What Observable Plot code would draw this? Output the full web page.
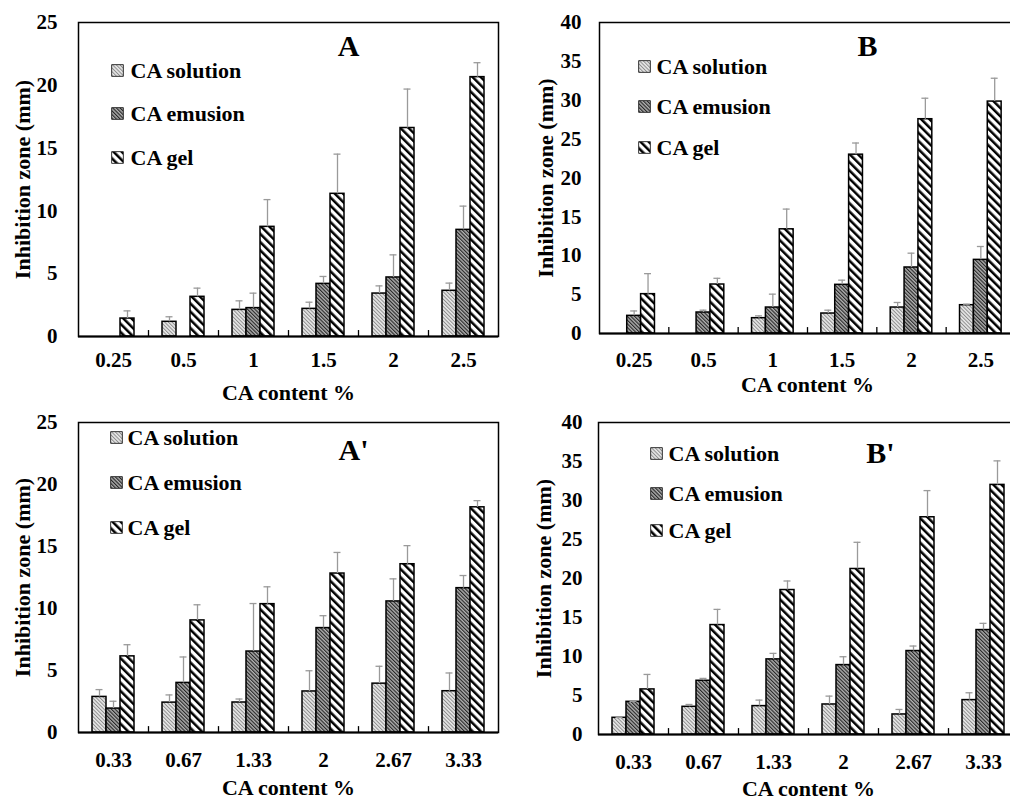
<!DOCTYPE html>
<html>
<head>
<meta charset="utf-8">
<script src="https://cdn.jsdelivr.net/npm/d3@7"></script>
<script src="https://cdn.jsdelivr.net/npm/@observablehq/plot@0.6"></script>
<style>
html, body { margin: 0; padding: 0; background: #fff; width: 1010px; height: 801px; overflow: hidden; }
.panel { position: absolute; }
.panel svg { max-width: none !important; display: block; }
.panel svg text { font-family: "Liberation Serif", "Times New Roman", serif !important; font-weight: bold !important; }
</style>
</head>
<body>
<svg width="0" height="0" style="position:absolute;left:0;top:0">
  <defs>
    <pattern id="pat-sol" patternUnits="userSpaceOnUse" width="2.6" height="2.6" patternTransform="rotate(-45)">
      <rect width="2.6" height="2.6" fill="#e9e9e9"></rect>
      <rect width="1" height="2.6" fill="#8c8c8c"></rect>
    </pattern>
    <pattern id="pat-emu" patternUnits="userSpaceOnUse" width="2.6" height="2.6" patternTransform="rotate(-45)">
      <rect width="2.6" height="2.6" fill="#b0b0b0"></rect>
      <rect width="1.15" height="2.6" fill="#262626"></rect>
    </pattern>
    <pattern id="pat-gel" patternUnits="userSpaceOnUse" width="5.8" height="5.8" patternTransform="rotate(-45)">
      <rect width="5.8" height="5.8" fill="#ffffff"></rect>
      <rect width="2.5" height="5.8" fill="#000000"></rect>
    </pattern>
  </defs>
</svg>
<div id="root"></div>
<script>
// ---- data ----
const series = ["CA solution", "CA emusion", "CA gel"];
const catsA = ["0.25", "0.5", "1", "1.5", "2", "2.5"];
const catsAp = ["0.33", "0.67", "1.33", "2", "2.67", "3.33"];

// Panel A
const solA = [0, 1.17, 2.12, 2.2, 3.42, 3.64];
const solA_sd = [0, 0.4, 0.72, 0.53, 0.61, 0.61];
const emuA = [0, 0, 2.26, 4.19, 4.7, 8.49];
const emuA_sd = [0, 0, 1.19, 0.59, 1.8, 1.89];
const gelA = [1.43, 3.16, 8.73, 11.36, 16.6, 20.65];
const gelA_sd = [0.61, 0.69, 2.17, 3.16, 3.1, 1.15];

// Panel B
const solB = [0, 0, 1.97, 2.57, 3.34, 3.64];
const solB_sd = [0, 0, 0.3, 0.43, 0.65, 0.13];
const emuB = [2.27, 2.7, 3.34, 6.26, 8.49, 9.47];
const emuB_sd = [0.63, 0.3, 1.72, 0.6, 1.84, 1.72];
const gelB = [5.06, 6.3, 13.4, 23.0, 27.56, 29.83];
const gelB_sd = [2.64, 0.8, 2.6, 1.5, 2.7, 3.0];

// Panel A'
const solAp = [2.87, 2.41, 2.42, 3.31, 3.94, 3.33];
const solAp_sd = [0.59, 0.62, 0.28, 1.67, 1.4, 1.47];
const emuAp = [1.93, 4.0, 6.53, 8.42, 10.57, 11.64];
const emuAp_sd = [0.59, 2.09, 3.87, 1.0, 1.82, 1.02];
const gelAp = [6.14, 9.04, 10.35, 12.82, 13.57, 18.16];
const gelAp_sd = [0.94, 1.26, 1.4, 1.7, 1.5, 0.54];

// Panel B'
const solBp = [2.14, 3.55, 3.64, 3.85, 2.57, 4.41];
const solBp_sd = [0.06, 0.3, 0.77, 1.07, 0.64, 0.94];
const emuBp = [4.19, 6.89, 9.63, 8.9, 10.7, 13.39];
const emuBp_sd = [0.05, 0.3, 0.77, 1.07, 0.64, 0.86];
const gelBp = [5.78, 14.03, 18.52, 21.22, 27.85, 32.0];
const gelBp_sd = [1.92, 2.01, 1.16, 3.42, 3.42, 3.08];

const yTitle = "Inhibition zone (mm)";
const xTitle = "CA content %";
const patterns = ["url(#pat-sol)", "url(#pat-emu)", "url(#pat-gel)"];
const FONT = "'Liberation Serif', 'Times New Roman', serif";

// ---- layout ----
const panels = [
  {letter: "A", cats: catsA, vals: [solA, emuA, gelA], sds: [solA_sd, emuA_sd, gelA_sd], ymax: 25,
   left: 0, top: 0, width: 505, height: 400, mL: 78, mR: 7, mT: 22, mB: 64,
   yPad: 21, xPad: 16, yTitleDx: 56, xTitleDy: 56, letterDx: 270, letterDy: 24,
   sqDx: 39, textDx: 52, dys: [48, 91, 135]},
  {letter: "B", cats: catsA, vals: [solB, emuB, gelB], sds: [solB_sd, emuB_sd, gelB_sd], ymax: 40,
   left: 505, top: 0, width: 520, height: 400, mL: 94, mR: 10, mT: 22, mB: 67,
   yPad: 18, xPad: 19, yTitleDx: 54, xTitleDy: 51, letterDx: 268, letterDy: 24,
   sqDx: 45, textDx: 57, dys: [44, 84, 125]},
  {letter: "A'", cats: catsAp, vals: [solAp, emuAp, gelAp], sds: [solAp_sd, emuAp_sd, gelAp_sd], ymax: 25,
   left: 0, top: 400, width: 505, height: 401, mL: 78, mR: 7, mT: 22, mB: 69,
   yPad: 21, xPad: 20, yTitleDx: 56, xTitleDy: 55, letterDx: 275, letterDy: 28,
   sqDx: 38, textDx: 49, dys: [15, 60, 105]},
  {letter: "B'", cats: catsAp, vals: [solBp, emuBp, gelBp], sds: [solBp_sd, emuBp_sd, gelBp_sd], ymax: 40,
   left: 505, top: 400, width: 525, height: 401, mL: 93, mR: 12, mT: 22, mB: 67,
   yPad: 16, xPad: 20, yTitleDx: 55, xTitleDy: 54, letterDx: 282, letterDy: 31,
   sqDx: 58, textDx: 70, dys: [31, 71, 108]}
];

const W = 0.2;       // bar width in category units
const CAP = 0.05;    // half cap width
const root = document.getElementById("root");

for (const p of panels) {
  const rows = [];
  series.forEach((s, k) => p.cats.forEach((c, i) => rows.push({cat: c, i, k, s, v: p.vals[k][i], sd: p.sds[k][i]})));
  const pos = rows.filter(d => d.v > 0);
  const err = pos.filter(d => d.sd > 0);
  const xc = d => d.i + 0.5 + (d.k - 1) * W;
  const txt = {fontFamily: FONT, fontWeight: "bold"};

  const marks = [
    Plot.ruleX(d3.range(1, p.cats.length), {y1: 0, y2: p.ymax * 0.019, stroke: "black", strokeWidth: 1.3}),
    ...series.map((s, k) => Plot.rect(pos.filter(d => d.k === k), {
      x1: d => xc(d) - W / 2, x2: d => xc(d) + W / 2, y1: 0, y2: "v",
      fill: patterns[k], stroke: "black", strokeWidth: 1.5
    })),
    Plot.ruleX(err, {x: xc, y1: "v", y2: d => d.v + d.sd, stroke: "#9a9a9a", strokeWidth: 1.3}),
    Plot.ruleY(err, {y: d => d.v + d.sd, x1: d => xc(d) - CAP, x2: d => xc(d) + CAP, stroke: "#9a9a9a", strokeWidth: 1.3}),
    Plot.frame({stroke: "black", strokeWidth: 1.5}),
    Plot.ruleY([0], {stroke: "black", strokeWidth: 2}),
    Plot.axisY({ticks: d3.range(0, p.ymax + 1, 5), tickSize: 0, tickPadding: p.yPad, fontSize: 21, label: null, ...txt}),
    Plot.axisX({ticks: d3.range(p.cats.length).map(i => i + 0.5), tickFormat: t => p.cats[Math.floor(t)],
                tickSize: 0, tickPadding: p.xPad, fontSize: 21, label: null, ...txt}),
    Plot.text([yTitle], {frameAnchor: "left", dx: -p.yTitleDx, rotate: -90, text: d => d,
                         fontSize: 22, textAnchor: "middle", lineAnchor: "middle", ...txt}),
    Plot.text([xTitle], {frameAnchor: "bottom", dy: p.xTitleDy, text: d => d,
                         fontSize: 22, textAnchor: "middle", lineAnchor: "middle", ...txt}),
    Plot.text([p.letter], {frameAnchor: "top-left", dx: p.letterDx, dy: p.letterDy, text: d => d,
                           fontSize: 30, textAnchor: "middle", lineAnchor: "middle", ...txt})
  ];
  series.forEach((s, k) => {
    marks.push(Plot.dot([s], {frameAnchor: "top-left", x: null, y: null, dx: p.sqDx, dy: p.dys[k],
                              symbol: "square", r: 6.6, fill: patterns[k], stroke: "#333", strokeWidth: 1}));
    marks.push(Plot.text([s], {frameAnchor: "top-left", dx: p.textDx, dy: p.dys[k], text: d => d,
                               fontSize: 22, textAnchor: "start", lineAnchor: "middle", ...txt}));
  });

  const chart = Plot.plot({
    width: p.width, height: p.height,
    marginLeft: p.mL, marginRight: p.mR, marginTop: p.mT, marginBottom: p.mB,
    x: {domain: [0, p.cats.length]},
    y: {domain: [0, p.ymax]},
    style: {fontFamily: FONT, fontWeight: "bold", fontSize: "21px",
            color: "black", background: "transparent", overflow: "visible"},
    marks
  });
  const div = document.createElement("div");
  div.className = "panel";
  div.style.left = p.left + "px";
  div.style.top = p.top + "px";
  div.style.width = p.width + "px";
  div.style.height = p.height + "px";
  div.appendChild(chart);
  root.appendChild(div);
}
</script>
</body>
</html>
